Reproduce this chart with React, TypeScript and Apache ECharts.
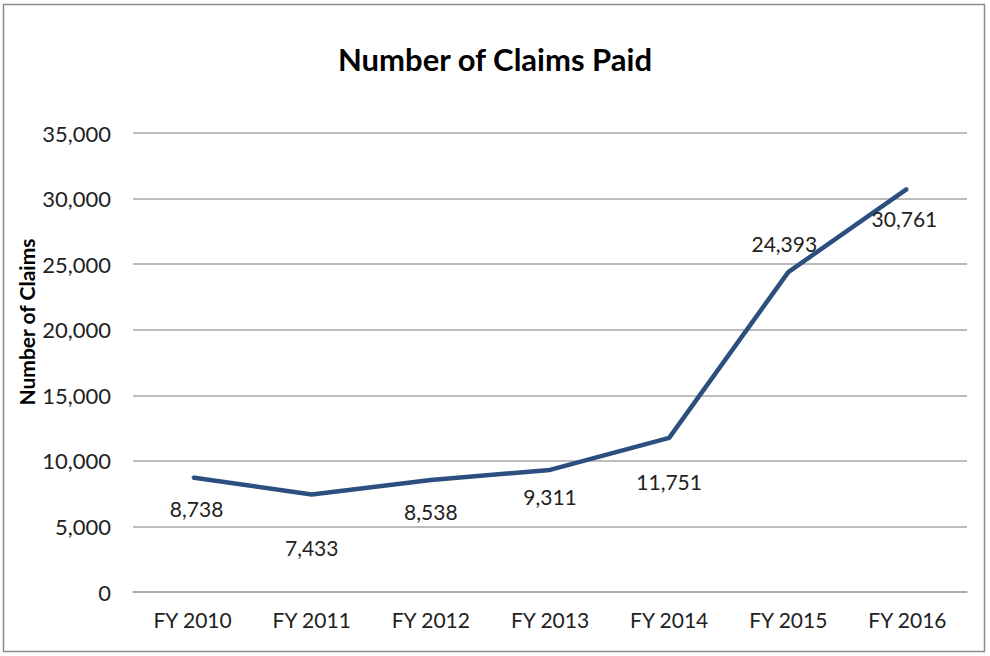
import React, { useEffect, useRef } from "react";
import * as echarts from "echarts";

const categories = ["FY 2010", "FY 2011", "FY 2012", "FY 2013", "FY 2014", "FY 2015", "FY 2016"];
const claims = [8738, 7433, 8538, 9311, 11751, 24393, 30761];
const labelOffsets: [number, number][] = [
  [4, 31],
  [0, 53],
  [0, 31],
  [0, 27],
  [0, 44],
  [-4, -29],
  [-3, 30],
];

export default function App() {
  const ref = useRef<HTMLDivElement>(null);
  useEffect(() => {
    document.body.style.margin = "0";
    const chart = echarts.init(ref.current!, undefined, { renderer: "svg" });
    const font = "Lato, 'Open Sans', sans-serif";
    chart.setOption({
      animation: false,
      backgroundColor: "#ffffff",
      title: {
        text: "Number of Claims Paid",
        left: "center",
        top: 38,
        textStyle: { fontFamily: font, fontSize: 31, fontWeight: "bold", color: "#000" },
      },
      graphic: [
        {
          type: "rect",
          shape: { x: 3.5, y: 4.5, width: 981, height: 647 },
          style: { fill: "none", stroke: "#8c8c8c", lineWidth: 1.5 },
          silent: true,
        },
        {
          type: "text",
          x: 26,
          y: 322,
          rotation: Math.PI / 2,
          style: {
            text: "Number of Claims",
            fontFamily: font,
            fontSize: 21,
            fontWeight: "bold",
            fill: "#000",
            align: "center",
            verticalAlign: "middle",
          },
          silent: true,
        },
      ],
      grid: { left: 133, right: 23, top: 133, bottom: 64 },
      xAxis: {
        type: "category",
        data: categories,
        boundaryGap: true,
        axisLine: { show: true, lineStyle: { color: "#a6a6a6", width: 1.5 } },
        axisTick: { show: false },
        axisLabel: { fontFamily: font, fontSize: 21, color: "#222", margin: 17 },
      },
      yAxis: {
        type: "value",
        min: 0,
        max: 35000,
        interval: 5000,
        axisLine: { show: false },
        axisTick: { show: false },
        axisLabel: {
          fontFamily: font,
          fontSize: 22,
          color: "#222",
          margin: 22,
          formatter: (v: number) => v.toLocaleString("en-US"),
        },
        splitLine: { lineStyle: { color: "#a6a6a6", width: 1.5 } },
      },
      series: [
        {
          type: "line",
          data: claims.map((v, i) => ({
            value: v,
            label: { offset: labelOffsets[i] },
          })),
          symbol: "circle",
          symbolSize: 2,
          showSymbol: true,
          itemStyle: { color: "#2C4F80" },
          lineStyle: { color: "#2C4F80", width: 4.5 },
          label: {
            show: true,
            position: "inside",
            fontFamily: font,
            fontSize: 21,
            color: "#222",
            formatter: (p: any) => Number(p.value).toLocaleString("en-US"),
          },
        },
      ],
    });
    return () => chart.dispose();
  }, []);
  return <div ref={ref} style={{ width: 990, height: 656 }} />;
}
